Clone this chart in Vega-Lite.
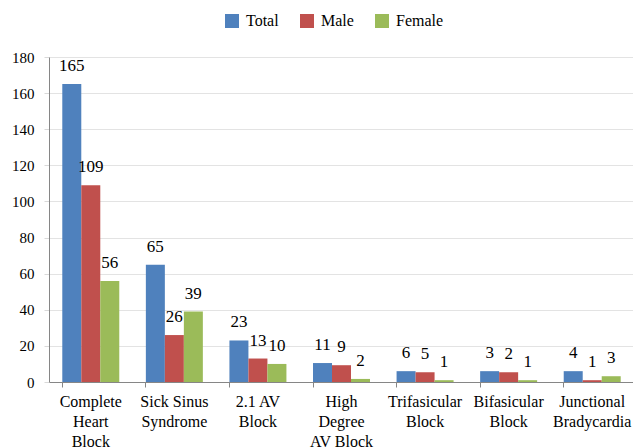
{
  "$schema": "https://vega.github.io/schema/vega-lite/v6.json",
  "autosize": {"type": "none"},
  "padding": {"left": 49, "top": 57, "right": 0, "bottom": 66},
  "width": 585,
  "height": 325,
  "background": "white",
  "config": {
    "view": {"stroke": null},
    "font": "Liberation Serif",
    "axis": {"labelFont": "Liberation Serif"},
    "legend": {"labelFont": "Liberation Serif"}
  },
  "data": {
    "values": [
      {"category": "Complete Heart Block", "series": "Total", "value": 165, "label": "165"},
      {"category": "Complete Heart Block", "series": "Male", "value": 109, "label": "109"},
      {"category": "Complete Heart Block", "series": "Female", "value": 56, "label": "56"},
      {"category": "Sick Sinus Syndrome", "series": "Total", "value": 65, "label": "65"},
      {"category": "Sick Sinus Syndrome", "series": "Male", "value": 26, "label": "26"},
      {"category": "Sick Sinus Syndrome", "series": "Female", "value": 39, "label": "39"},
      {"category": "2.1 AV Block", "series": "Total", "value": 23, "label": "23"},
      {"category": "2.1 AV Block", "series": "Male", "value": 13, "label": "13"},
      {"category": "2.1 AV Block", "series": "Female", "value": 10, "label": "10"},
      {"category": "High Degree AV Block", "series": "Total", "value": 10.5, "label": "11"},
      {"category": "High Degree AV Block", "series": "Male", "value": 9.3, "label": "9"},
      {"category": "High Degree AV Block", "series": "Female", "value": 1.7, "label": "2"},
      {"category": "Trifasicular Block", "series": "Total", "value": 6, "label": "6"},
      {"category": "Trifasicular Block", "series": "Male", "value": 5.4, "label": "5"},
      {"category": "Trifasicular Block", "series": "Female", "value": 1, "label": "1"},
      {"category": "Bifasicular Block", "series": "Total", "value": 6, "label": "3"},
      {"category": "Bifasicular Block", "series": "Male", "value": 5.4, "label": "2"},
      {"category": "Bifasicular Block", "series": "Female", "value": 1, "label": "1"},
      {"category": "Junctional Bradycardia", "series": "Total", "value": 6, "label": "4"},
      {"category": "Junctional Bradycardia", "series": "Male", "value": 1, "label": "1"},
      {"category": "Junctional Bradycardia", "series": "Female", "value": 3.2, "label": "3"}
    ]
  },
  "encoding": {
    "x": {
      "field": "category",
      "type": "nominal",
      "sort": null,
      "scale": {"paddingInner": 0.318, "paddingOuter": 0.159},
      "axis": {
        "title": null,
        "labelAngle": 0,
        "bandPosition": 0,
        "domainColor": "#868686",
        "tickColor": "#868686",
        "tickSize": 5,
        "labelFontSize": 16,
        "labelColor": "#000000",
        "labelPadding": 6,
        "labelLineHeight": 20,
        "labelBaseline": "top",
        "labelOverlap": false,
        "labelLimit": 300,
        "labelExpr": "datum.label == 'Complete Heart Block' ? ['Complete','Heart','Block'] : datum.label == 'Sick Sinus Syndrome' ? ['Sick Sinus','Syndrome'] : datum.label == '2.1 AV Block' ? ['2.1 AV','Block'] : datum.label == 'High Degree AV Block' ? ['High','Degree','AV Block'] : datum.label == 'Trifasicular Block' ? ['Trifasicular','Block'] : datum.label == 'Bifasicular Block' ? ['Bifasicular','Block'] : ['Junctional','Bradycardia']"
      }
    },
    "xOffset": {
      "field": "series",
      "type": "nominal",
      "sort": ["Total", "Male", "Female"],
      "scale": {"paddingInner": 0, "paddingOuter": 0}
    },
    "y": {
      "field": "value",
      "type": "quantitative",
      "scale": {"domain": [0, 180], "nice": false},
      "axis": {
        "title": null,
        "values": [0, 20, 40, 60, 80, 100, 120, 140, 160, 180],
        "tickCount": 10,
        "labelOverlap": false,
        "labelFlush": false,
        "grid": true,
        "gridColor": "#e3e3e3",
        "domainColor": "#868686",
        "tickColor": "#d9d9d9",
        "tickSize": 5,
        "labelFontSize": 15,
        "labelColor": "#000000",
        "labelPadding": 10
      }
    }
  },
  "layer": [
    {
      "mark": {"type": "bar"},
      "encoding": {
        "color": {
          "field": "series",
          "type": "nominal",
          "sort": ["Total", "Male", "Female"],
          "scale": {"domain": ["Total", "Male", "Female"], "range": ["#4F81BD", "#C0504D", "#9BBB59"]},
          "legend": {
            "title": null,
            "orient": "none",
            "direction": "horizontal",
            "legendX": 175,
            "legendY": -44,
            "padding": 0,
            "symbolType": "square",
            "symbolSize": 196,
            "symbolStrokeWidth": 0,
            "labelFontSize": 16,
            "labelColor": "#000000",
            "labelOffset": 6,
            "columnPadding": 20
          }
        }
      }
    },
    {
      "mark": {"type": "text", "baseline": "bottom", "dy": -9, "font": "Liberation Serif", "fontSize": 17, "color": "#000000"},
      "encoding": {
        "text": {"field": "label"}
      }
    }
  ]
}
